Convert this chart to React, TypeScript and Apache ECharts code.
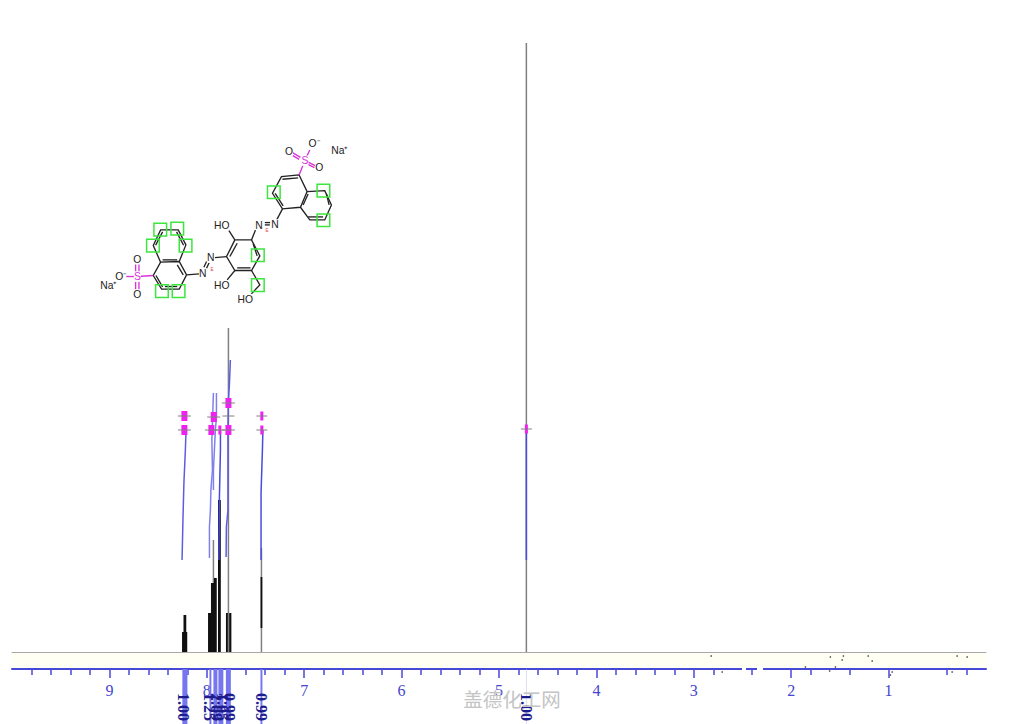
import React, { useEffect, useRef } from "react";
import * as echarts from "echarts";

// --- axis ---
const majorTicks = [9, 8, 7, 6, 5, 4, 3, 2, 1];
const minorTicks = [
  9.8, 9.6, 9.4, 9.2, 8.8, 8.6, 8.4, 8.2, 7.8, 7.6, 7.4, 7.2, 6.8, 6.6, 6.4, 6.2, 5.8, 5.6, 5.4, 5.2,
  4.8, 4.6, 4.4, 4.2, 3.8, 3.6, 3.4, 3.2, 2.8, 2.4, 1.8, 1.4, 0.4, 0.2,
];

// --- spectrum sticks: ppm, lower intensity, upper intensity ---
const blackPpm = [8.245, 8.235, 8.23, 8.22, 8.21, 7.978, 7.968, 7.958, 7.948, 7.937, 7.948, 7.937, 7.927, 7.917, 7.907, 7.876, 7.871, 7.866, 7.794, 7.76, 7.439];
const blackLow = [0, 0, 0, 0, 0, 0, 0, 0, 0, 0, 0, 0, 0, 0, 0, 0, 0, 0, 0, 0, 24];
const blackHigh = [20, 20, 37, 37, 20, 39, 39, 39, 39, 39, 69, 69, 69, 74, 74, 152, 152, 152, 39, 39, 75];
const greyPpm = [7.932, 7.784, 7.778, 7.768, 7.753, 7.439, 4.719];
const greyHigh = [112, 39, 324, 39, 39, 104, 609];

// --- integral curves: ppm and height ---
const integralAPpm = [8.254, 8.245, 8.235, 8.22, 8.213];
const integralAValue = [92, 132, 169, 202, 222];
const integralBPpm = [7.973, 7.973, 7.963, 7.958, 7.942, 7.948, 7.932];
const integralBValue = [94, 125, 142, 162, 182, 212, 259];
const integralCPpm = [7.932, 7.932, 7.922, 7.912, 7.901, 7.901];
const integralCValue = [162, 182, 202, 222, 235, 259];
const integralDPpm = [7.876, 7.871, 7.86, 7.86];
const integralDValue = [92, 152, 202, 222];
const integralEPpm = [7.802, 7.799, 7.783, 7.783, 7.778, 7.768, 7.758];
const integralEValue = [95, 125, 142, 222, 252, 267, 292];
const integralFPpm = [7.443, 7.443, 7.429, 7.424];
const integralFValue = [92, 159, 202, 222];
const integralGPpm = [4.719, 4.719];
const integralGValue = [92, 222];

// --- integration labels ---
const integralLabels = ["1.00", "1.25", "2.09", "1.05", "0.99", "0.99", "1.00"];
const integralLabelPpm = [8.235, 7.975, 7.905, 7.835, 7.77, 7.44, 4.72];
const bandStart = [8.251, 7.973, 7.932, 7.881, 7.804, 7.449, 4.722];
const bandEnd = [8.199, 7.953, 7.891, 7.83, 7.753, 7.429, 4.716];

// --- peak pick marks ---
const wideMarkPpm = [8.23, 8.23, 7.929, 7.953, 7.778, 7.778];
const wideMarkValue = [236, 222, 235, 222, 249, 222];
const narrowMarkPpm = [7.866, 7.435, 7.435, 4.719];
const narrowMarkValue = [222, 236, 222, 223];
const plainMarkPpm = [7.778];
const plainMarkValue = [236];

// --- specks of the scan around the axis ---
const speckPpm = [2.822, 2.709, 1.854, 1.605, 1.546, 1.464, 1.477, 1.598, 1.21, 1.169, 0.964, 0.981, 0.348, 0.297, 0.194];
const speckValue = [-4, -20, -15, -19, -15, -4, -8, -5, -4, -9, -20, -23, -20, -4, -5];

// --- structure drawing, in a 3x local space ---
const bonds: number[][] = [
  [628, 135, 575, 140, 548, 190, 578, 237, 632, 232, 652, 185, 628, 135],
  [652, 185, 705, 182, 725, 225, 705, 270, 660, 270, 632, 232],
  [578, 148, 625, 144], [556, 190, 580, 228], [710, 192, 718, 225], [655, 261, 700, 261], [640, 225, 655, 192],
  [578, 237, 558, 275], [540, 285, 525, 285], [541, 278, 525, 278], [497, 300, 485, 330],
  [435, 330, 485, 330, 510, 378, 485, 422, 435, 422, 410, 380, 435, 330],
  [442, 340, 420, 380], [490, 342, 502, 378], [442, 414, 482, 414],
  [412, 294, 435, 330], [412, 450, 435, 422], [485, 422, 510, 465, 482, 495],
  [410, 380, 375, 383], [350, 395, 342, 412], [358, 398, 350, 415], [328, 432, 290, 435],
  [290, 435, 268, 395, 212, 397, 190, 437, 215, 478, 268, 478, 290, 435],
  [268, 395, 288, 345, 265, 300, 212, 300, 190, 347, 212, 397],
  [218, 306, 197, 346], [260, 306, 281, 346], [218, 390, 262, 390], [198, 437, 218, 471], [225, 470, 262, 470], [280, 435, 262, 405],
];
const sulfurBonds: number[][] = [
  [645, 92, 628, 135], [645, 92, 660, 60], [632, 82, 608, 68], [628, 88, 604, 74], [652, 95, 676, 107], [650, 101, 674, 113],
  [142, 440, 190, 437], [108, 440, 142, 440], [137, 425, 137, 400], [147, 425, 147, 400], [137, 455, 137, 480], [147, 455, 147, 480],
];
const atomLabels: [string, number, number][] = [
  ["O", 597, 63], ["O", 688, 112], ["O⁻", 672, 40], ["Na⁺", 748, 62], ["N", 555, 283], ["N", 507, 285],
  ["HO", 395, 287], ["HO", 395, 467], ["HO", 466, 507], ["N", 362, 383], ["N", 338, 430],
  ["O", 142, 388], ["O", 142, 493], ["O⁻", 92, 440], ["Na⁺", 55, 466],
];
const sulfurLabels: [string, number, number][] = [["S", 645, 92], ["S", 142, 440]];
const stereoLabels: [string, number, number][] = [["E", 531, 300], ["E", 366, 417]];
const stereoBoxes: [number, number][] = [
  [192, 280], [243, 277], [170, 328], [268, 328], [197, 465], [247, 465], [485, 357], [485, 447], [533, 168], [682, 163], [682, 252],
];

const zip = (a: number[], b: number[]) => a.map((v, i) => [v, b[i]]);

const AXIS_BLUE = "#4848d8";
const CURVE_BLUE = "#5c5ce4";

function sticks(name: string, ppm: number[], low: number[], high: number[], color: string, width: number, z: number) {
  return {
    type: "custom",
    name,
    xAxisIndex: 0,
    yAxisIndex: 0,
    z,
    silent: true,
    data: ppm.map((p, i) => [p, low[i], high[i]]),
    renderItem: (_: any, api: any) => {
      const a = api.coord([api.value(0), api.value(1)]);
      const b = api.coord([api.value(0), api.value(2)]);
      return { type: "line", shape: { x1: a[0], y1: a[1], x2: b[0], y2: b[1] }, style: { stroke: color, lineWidth: width } };
    },
  };
}

function curve(name: string, ppm: number[], value: number[], color = CURVE_BLUE) {
  return {
    type: "line",
    name,
    xAxisIndex: 0,
    yAxisIndex: 0,
    z: 5,
    silent: true,
    symbol: "none",
    data: zip(ppm, value),
    lineStyle: { color, width: 1.5 },
  };
}

function marks(name: string, ppm: number[], value: number[], boxW: number, boxH: number, lineW: number) {
  return {
    type: "custom",
    name,
    xAxisIndex: 0,
    yAxisIndex: 0,
    z: 6,
    silent: true,
    data: zip(ppm, value),
    renderItem: (_: any, api: any) => {
      const c = api.coord([api.value(0), api.value(1)]);
      return {
        type: "group",
        children: [
          { type: "rect", shape: { x: c[0] - boxW / 2, y: c[1] - boxH / 2, width: boxW, height: boxH }, style: { fill: "#f020f0" } },
          { type: "line", shape: { x1: c[0] - lineW / 2, y1: c[1], x2: c[0] + lineW / 2, y2: c[1] }, style: { stroke: "#808080", lineWidth: 1 } },
        ],
      };
    },
  };
}

const baseAxis = { type: "value", min: 0, max: 10, inverse: true, gridIndex: 0, splitLine: { show: false } };

function buildOption() {
  const structure: any[] = [];
  bonds.forEach((b) => structure.push({ type: "polyline", shape: { points: b.reduce((acc: number[][], v, i) => (i % 2 ? acc : [...acc, [v, b[i + 1]]]), []) }, style: { fill: "none", stroke: "#222", lineWidth: 4 } }));
  sulfurBonds.forEach((b) => structure.push({ type: "line", shape: { x1: b[0], y1: b[1], x2: b[2], y2: b[3] }, style: { stroke: "#d832d8", lineWidth: 4 } }));
  stereoBoxes.forEach(([x, y]) => structure.push({ type: "rect", shape: { x, y, width: 38, height: 38 }, style: { fill: "none", stroke: "#3ce63c", lineWidth: 4.5 } }));
  const label = (t: [string, number, number], fill: string, size: number) => ({
    type: "text",
    x: t[1],
    y: t[2],
    style: { text: t[0], x: 0, y: 0, fill, font: `${size}px "Liberation Sans", sans-serif`, align: "center", verticalAlign: "middle", backgroundColor: "#fff" },
  });
  atomLabels.forEach((t) => structure.push(label(t, "#222", 31)));
  sulfurLabels.forEach((t) => structure.push(label(t, "#d832d8", 31)));
  stereoLabels.forEach((t) => structure.push(label(t, "#e04848", 14)));

  return {
    animation: false,
    backgroundColor: "#ffffff",
    grid: { left: 12, right: 38, top: 43, bottom: 72, containLabel: false },
    yAxis: { type: "value", min: 0, max: 609, show: false },
    xAxis: [
      {
        ...baseAxis,
        position: "bottom",
        axisLine: { show: true, onZero: false, lineStyle: { color: "#a8a8a8", width: 1 } },
        axisTick: { show: false },
        axisLabel: { show: false },
      },
      {
        ...baseAxis,
        position: "bottom",
        offset: 17,
        axisLine: { show: true, onZero: false, lineStyle: { color: AXIS_BLUE, width: 2 } },
        axisTick: { show: true, length: 9, customValues: majorTicks, lineStyle: { color: AXIS_BLUE, width: 1.5 } },
        axisLabel: { show: true, customValues: majorTicks, margin: 13, color: "#4646cc", fontFamily: "Liberation Serif", fontSize: 16 },
      },
      {
        ...baseAxis,
        position: "bottom",
        offset: 17,
        axisLine: { show: false, onZero: false },
        axisTick: { show: true, length: 6, customValues: minorTicks, lineStyle: { color: AXIS_BLUE, width: 1.5 } },
        axisLabel: { show: false },
      },
    ],
    graphic: [
      { type: "rect", z: -10, shape: { x: 12, y: 653, width: 974, height: 15 }, style: { fill: "#fffff4" } },
      { type: "rect", z: 100, shape: { x: 742, y: 667, width: 4, height: 4 }, style: { fill: "#ffffff" } },
      { type: "rect", z: 100, shape: { x: 757, y: 667, width: 6, height: 4 }, style: { fill: "#ffffff" } },
      { type: "group", x: 90, y: 130, scaleX: 1 / 3, scaleY: 1 / 3, z: 50, children: structure },
      {
        type: "text",
        z: 100,
        x: 512,
        y: 698,
        style: { text: "盖德化工网", fill: "#c4c4c4", font: '19.5px "Noto Sans CJK SC", sans-serif', align: "center", verticalAlign: "middle" },
      },
    ],
    series: [
      {
        type: "custom",
        name: "integral bands",
        xAxisIndex: 0,
        yAxisIndex: 0,
        z: 3,
        silent: true,
        data: bandStart.map((s, i) => [s, bandEnd[i]]),
        renderItem: (_: any, api: any) => {
          const a = api.coord([api.value(0), -17]);
          const b = api.coord([api.value(1), -72]);
          const pale = a[0] > 400;
          return { type: "rect", shape: { x: a[0], y: a[1], width: b[0] - a[0], height: b[1] - a[1] }, style: { fill: pale ? "#c8c8f0" : "#7676f0" } };
        },
      },
      {
        type: "custom",
        name: "integral labels",
        xAxisIndex: 0,
        yAxisIndex: 0,
        z: 4,
        silent: true,
        data: integralLabelPpm.map((p, i) => [p, i]),
        renderItem: (_: any, api: any) => {
          const c = api.coord([api.value(0), -55]);
          return {
            type: "text",
            x: c[0],
            y: c[1],
            rotation: -Math.PI / 2,
            style: { text: integralLabels[api.value(1)], x: 0, y: 0, fill: "#1c1c8c", font: 'bold 16px "Liberation Serif", serif', align: "center", verticalAlign: "middle" },
          };
        },
      },
      sticks("grey peaks", greyPpm, greyPpm.map(() => 0), greyHigh, "#808080", 1.5, 2),
      sticks("black peaks", blackPpm, blackLow, blackHigh, "#111111", 1.8, 3),
      curve("integral A", integralAPpm, integralAValue),
      curve("integral B", integralBPpm, integralBValue, "#8080ec"),
      curve("integral C", integralCPpm, integralCValue, "#8080ec"),
      curve("integral D", integralDPpm, integralDValue, "#4a4adc"),
      curve("integral E", integralEPpm, integralEValue),
      curve("integral F", integralFPpm, integralFValue, "#4a4adc"),
      curve("integral G", integralGPpm, integralGValue, "#4a4adc"),
      marks("wide marks", wideMarkPpm, wideMarkValue, 6, 10, 13),
      marks("narrow marks", narrowMarkPpm, narrowMarkValue, 3, 9, 11),
      {
        type: "custom",
        name: "plain mark",
        xAxisIndex: 0,
        yAxisIndex: 0,
        z: 6,
        silent: true,
        data: zip(plainMarkPpm, plainMarkValue),
        renderItem: (_: any, api: any) => {
          const c = api.coord([api.value(0), api.value(1)]);
          return { type: "line", shape: { x1: c[0] - 6, y1: c[1], x2: c[0] + 6, y2: c[1] }, style: { stroke: "#808080", lineWidth: 1 } };
        },
      },
      {
        type: "scatter",
        name: "specks",
        xAxisIndex: 0,
        yAxisIndex: 0,
        z: 7,
        silent: true,
        clip: false,
        symbol: "circle",
        symbolSize: 1.6,
        itemStyle: { color: "#333" },
        data: zip(speckPpm, speckValue),
      },
    ],
  };
}

export default function App() {
  const ref = useRef<HTMLDivElement>(null);
  useEffect(() => {
    const chart = echarts.init(ref.current!, undefined, { renderer: "svg" });
    chart.setOption(buildOption() as any);
    return () => chart.dispose();
  }, []);
  return <div ref={ref} style={{ position: "absolute", left: 0, top: 0, width: 1024, height: 724 }} />;
}
